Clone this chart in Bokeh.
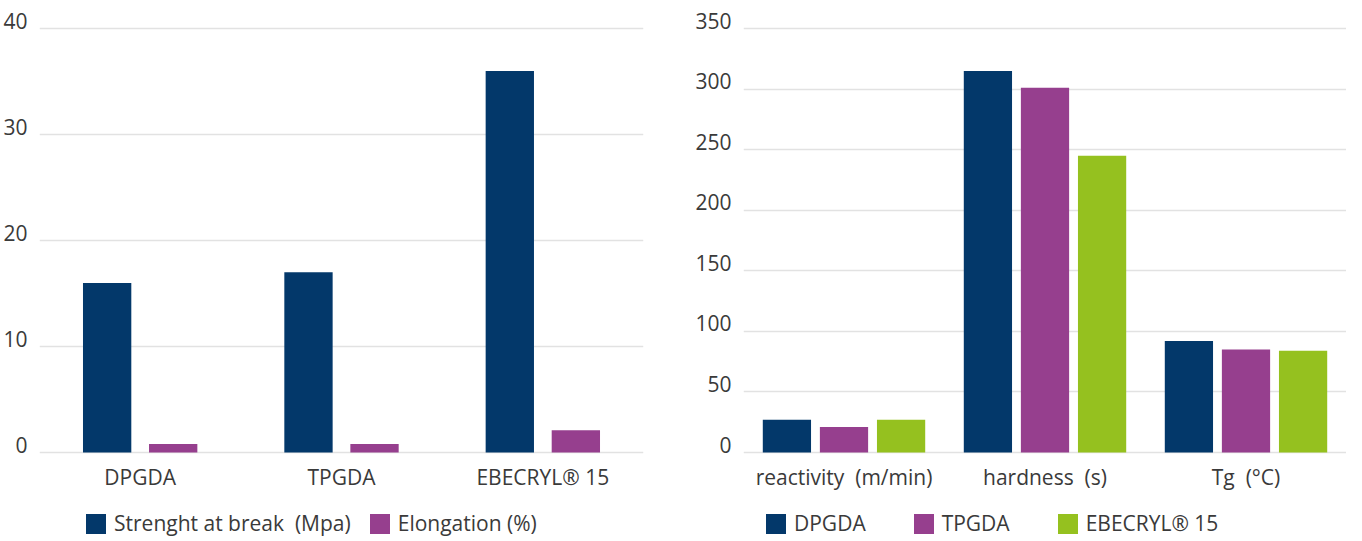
from bokeh.plotting import figure
from bokeh.models import (Legend, LegendItem, FactorRange, Range1d, FixedTicker,
                          ColumnDataSource, CustomJSTickFormatter)
from bokeh.transform import dodge
from bokeh.layouts import row
from bokeh.embed import file_html
from bokeh.resources import INLINE

FONT = "Open Sans"
TEXT = "#3a3a3a"
GRID = "#e2e2e2"
NAVY = "#03386a"
PURPLE = "#963f8e"
GREEN = "#95c11f"
FS = "21px"

# ---- left chart data ----
left_categories = ["DPGDA", "TPGDA", "EBECRYL® 15"]
strength = [16, 17, 36]
elongation = [0.8, 0.8, 2.1]
left_ticks = [0, 10, 20, 30, 40]
left_series = ["Strenght at break\u00a0\u00a0(Mpa)", "Elongation (%)"]

# ---- right chart data ----
right_categories = ["reactivity\u00a0\u00a0(m/min)", "hardness\u00a0\u00a0(s)", "Tg\u00a0\u00a0(°C)"]
dpgda = [27, 315, 92]
tpgda = [21, 301, 85]
ebecryl = [27, 245, 84]
right_ticks = [0, 50, 100, 150, 200, 250, 300, 350]
right_series = ["DPGDA", "TPGDA", "EBECRYL® 15"]

# layout (pixels)
H = 537          # figure height
FRAME_TOP = 6    # top of the plotting frame
TOP = 28         # pixel row of the top gridline
ZERO = 452       # pixel row of the zero gridline
LABEL_RAISE = 8  # tick labels sit just above their gridline


def base(cats, ymax, ticks, width, mbl, mbr):
    per_px = ymax / (ZERO - TOP)
    ystart = -(H - ZERO) * per_px
    yend = ymax + (TOP - FRAME_TOP) * per_px
    step = ticks[1] - ticks[0]
    p = figure(x_range=FactorRange(*cats, range_padding=0), y_range=Range1d(ystart, yend),
               width=width, height=H, output_backend="svg", toolbar_location=None,
               min_border_left=mbl, min_border_right=mbr, min_border_top=FRAME_TOP,
               min_border_bottom=0)
    p.outline_line_color = None
    p.background_fill_color = None
    p.border_fill_color = None
    p.xgrid.grid_line_color = None
    p.ygrid.grid_line_color = GRID
    p.ygrid.grid_line_width = 1.5
    p.ygrid.ticker = FixedTicker(ticks=ticks)
    # labels are placed slightly above each gridline, but show the gridline's value
    p.yaxis.ticker = FixedTicker(ticks=[t + LABEL_RAISE * per_px for t in ticks])
    p.yaxis.formatter = CustomJSTickFormatter(
        code="return String(Math.round(tick / %s) * %s)" % (step, step))
    for ax in (p.xaxis[0], p.yaxis[0]):
        ax.axis_line_color = None
        ax.major_tick_line_color = None
        ax.minor_tick_line_color = None
        ax.major_label_text_font = FONT
        ax.major_label_text_font_size = FS
        ax.major_label_text_color = TEXT
    p.yaxis.major_label_standoff = 6
    p.xaxis.fixed_location = 0
    p.xaxis.major_label_standoff = 4
    return p


def make_legend(items, x, spacing):
    lg = Legend(items=items, orientation="horizontal", location=(x, H - 537),
                glyph_width=25, glyph_height=25, label_standoff=6, spacing=spacing,
                padding=0, margin=0, border_line_color=None, background_fill_alpha=0,
                label_text_font=FONT, label_text_font_size=FS, label_text_color=TEXT,
                label_height=25)
    return lg


# left figure
src_l = ColumnDataSource(dict(cat=left_categories, s=strength, e=elongation))
p1 = base(left_categories, 40, left_ticks, 692, 30, 49)
r1 = p1.vbar(x=dodge("cat", -0.164, range=p1.x_range), top="s", width=0.24, source=src_l,
             fill_color=NAVY, line_color=None)
r2 = p1.vbar(x=dodge("cat", 0.164, range=p1.x_range), top="e", width=0.24, source=src_l,
             fill_color=PURPLE, line_color=None)
p1.add_layout(make_legend([LegendItem(label=left_series[0], renderers=[r1]),
                           LegendItem(label=left_series[1], renderers=[r2])], 44, 16))

# right figure
src_r = ColumnDataSource(dict(cat=right_categories, a=dpgda, b=tpgda, c=ebecryl))
p2 = base(right_categories, 350, right_ticks, 654, 46, 0)
rs = []
for off, col, color in ((-0.284, "a", NAVY), (0.0, "b", PURPLE), (0.284, "c", GREEN)):
    rs.append(p2.vbar(x=dodge("cat", off, range=p2.x_range), top=col, width=0.24, source=src_r,
                      fill_color=color, line_color=None))
p2.add_layout(make_legend([LegendItem(label=n, renderers=[r]) for n, r in zip(right_series, rs)],
                          20, 45))

layout = row(p1, p2)
open("out.html", "w").write(file_html(layout, INLINE))
